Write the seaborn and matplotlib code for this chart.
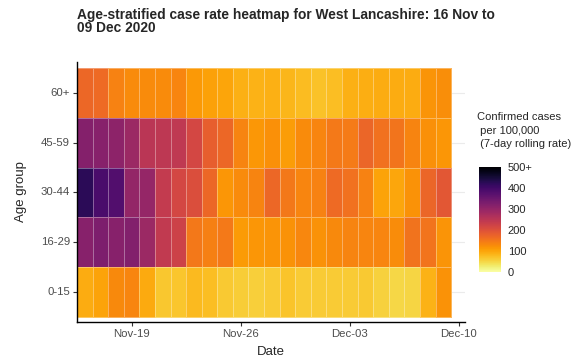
import numpy as np
import pandas as pd
import matplotlib
matplotlib.use("Agg")
import matplotlib.pyplot as plt
import seaborn as sns

sns.set_style("white")
plt.rcParams['font.family'] = ['Liberation Sans', 'DejaVu Sans']

# datos (tasa por 100.000)
fechas = pd.date_range("2020-11-16", "2020-12-09", freq="D")
grupos = ["60+", "45-59", "30-44", "16-29", "0-15"]

tasa_60 = [168, 165, 137, 127, 128, 127, 133, 112, 104, 100, 88, 87,
           88, 83, 78, 72, 76, 88, 90, 93, 92, 93, 118, 124]
tasa_45 = [320, 315, 308, 290, 250, 248, 245, 215, 180, 168, 135, 115,
           123, 108, 127, 133, 148, 146, 170, 157, 153, 135, 122, 116]
tasa_30 = [425, 390, 380, 300, 298, 240, 215, 205, 168, 117, 128, 135,
           168, 150, 133, 137, 165, 158, 137, 102, 98, 120, 170, 190]
tasa_16 = [315, 328, 315, 322, 290, 242, 225, 150, 140, 148, 110, 117,
           118, 120, 132, 120, 130, 135, 133, 134, 125, 155, 153, 118]
tasa_0 = [92, 102, 130, 133, 95, 65, 68, 80, 76, 64, 60, 58,
          62, 70, 62, 62, 62, 62, 64, 55, 50, 51, 87, 120]

ticks_fechas = ["2020-11-19", "2020-11-26", "2020-12-03", "2020-12-10"]
ticks_texto = ["Nov-19", "Nov-26", "Dec-03", "Dec-10"]
cbar_ticks = [0, 100, 200, 300, 400, 500]
cbar_texto = ["0", "100", "200", "300", "400", "500+"]

tabla = pd.DataFrame([tasa_60, tasa_45, tasa_30, tasa_16, tasa_0],
                     index=grupos, columns=fechas)

fig = plt.figure(figsize=(5.83, 3.62), dpi=100)
ax = fig.add_axes([0.132, 0.1105, 0.666, 0.7185])
cax = fig.add_axes([0.8216, 0.2486, 0.0377, 0.29])

sns.heatmap(tabla, cmap="inferno_r", vmin=0, vmax=500, ax=ax, cbar_ax=cax,
            linewidths=0.6, linecolor=(1, 1, 1, 0.35),
            cbar_kws={"ticks": cbar_ticks})

# eje x como fechas continuas
pos = [(pd.Timestamp(t) - fechas[0]).days + 0.5 for t in ticks_fechas]
ax.set_xticks(pos)
ax.set_xticklabels(ticks_texto, rotation=0, fontsize=8.2, color="#4D4D4D")
ax.set_yticks(np.arange(len(grupos)) + 0.5)
ax.set_yticklabels(grupos, rotation=0, fontsize=8.2, color="#4D4D4D")
ax.set_xlim(0, 24.9)
ax.set_ylim(5.1, -0.12)
ax.grid(axis="y", color="#EBEBEB", linewidth=0.8)
ax.set_axisbelow(True)

for lado in ["top", "right"]:
    ax.spines[lado].set_visible(False)
for lado in ["left", "bottom"]:
    ax.spines[lado].set_visible(True)
    ax.spines[lado].set_color("black")
    ax.spines[lado].set_linewidth(1.0)
ax.tick_params(axis="both", length=3, width=0.8, color="#333333", pad=2,
               bottom=True, left=True)

ax.set_xlabel("Date", fontsize=9.5, labelpad=5)
ax.set_ylabel("Age group", fontsize=9.5, labelpad=10)

cb = ax.collections[0].colorbar
cb.set_ticklabels(cbar_texto)
cb.ax.tick_params(labelsize=8, length=3, color="white", pad=2)
cb.outline.set_visible(False)

fig.text(0.819, 0.69, "Confirmed cases\n per 100,000\n (7-day rolling rate)",
         fontsize=8, va="top", ha="left", linespacing=1.45)

fig.text(0.132, 0.978, "Age-stratified case rate heatmap for West Lancashire: 16 Nov to\n09 Dec 2020",
         fontsize=9.9, fontweight="bold", va="top", ha="left", linespacing=0.95)

plt.savefig("out.png", dpi=100)
